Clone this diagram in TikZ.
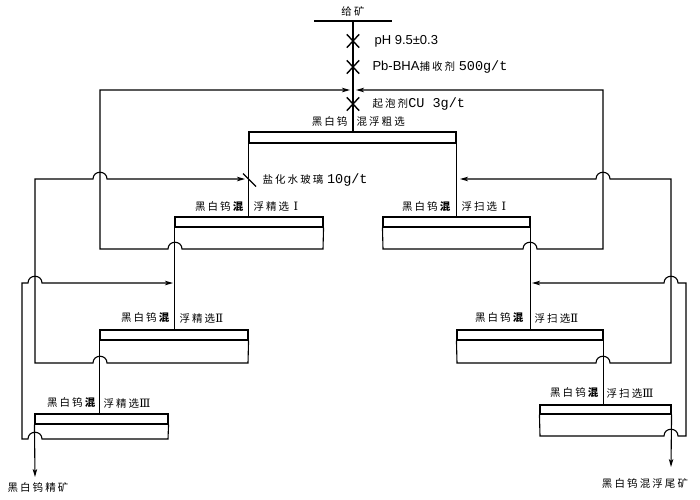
\documentclass[tikz,border=0pt]{standalone}
\usepackage{fontspec}
\setsansfont{Liberation Sans}
\setmonofont{Liberation Mono}
\newfontfamily\cjk[LetterSpace=20]{Noto Sans CJK SC}
\newfontfamily\romfont{DejaVu Serif}
\usetikzlibrary{arrows.meta,calc,shapes.misc}

% jumps over a crossing line, going right or left
\newcommand\hopR[1]{-- ($(#1)+(-7,0)$) .. controls ($(#1)+(-7,-9)$) and ($(#1)+(7,-9)$) .. ($(#1)+(7,0)$)}
\newcommand\hopL[1]{-- ($(#1)+(7,0)$) .. controls ($(#1)+(7,-9)$) and ($(#1)+(-7,-9)$) .. ($(#1)+(-7,0)$)}
% reagent text parts
\newcommand\zh[1]{{\cjk\fontsize{10.5}{12}\selectfont #1}}
\newcommand\amt[1]{{\ttfamily\fontsize{13.5}{15}\selectfont #1}}
\newcommand\rom[1]{{\romfont\fontsize{11.5}{12}\selectfont #1}}

\begin{document}
\begin{tikzpicture}[x=1pt,y=-1pt,line width=1.1pt,
    cell box/.style={draw,inner sep=0pt,minimum height=10pt},
    cell text/.style={inner sep=0pt,font=\cjk\fontsize{10.5}{12}\selectfont},
    dose text/.style={inner sep=0pt,anchor=west,font=\sffamily\fontsize{13}{15}\selectfont},
    cross mark/.style={cross out,draw,minimum width=11pt,minimum height=12pt,inner sep=0pt,line width=1.4pt},
    flow line/.style={-{Stealth[length=8pt,width=4.5pt,inset=2pt]}}]

      \useasboundingbox (0,0) rectangle (700,499);

      % Define cells
      \node[cell box,minimum width=207pt,minimum height=11pt] (R) at (352.5,137.5) {};
      \node[cell box,minimum width=148pt] (C1) at (249,222) {};
      \node[cell box,minimum width=148pt] (C2) at (174,335) {};
      \node[cell box,minimum width=133pt] (C3) at (101.5,419) {};
      \node[cell box,minimum width=147pt] (S1) at (456.5,222) {};
      \node[cell box,minimum width=146pt] (S2) at (530,335) {};
      \node[cell box,minimum width=131pt,minimum height=9pt] (S3) at (605.5,409.5) {};

      % Cell names
      \node[cell text,anchor=east] (Rl) at (348,122) {黑白钨};
      \node[cell text,anchor=west] (Rr) at (356,122) {混浮粗选};
      \node[cell text,anchor=east] (C1l) at (246,207) {黑白钨\textbf{混}};
      \node[cell text,anchor=west] (C1r) at (253,207) {浮精选 \rom{Ⅰ}};
      \node[cell text,anchor=east] (C2l) at (172,318) {黑白钨\textbf{混}};
      \node[cell text,anchor=west] (C2r) at (179,318) {浮精选\rom{Ⅱ}};
      \node[cell text,anchor=east] (C3l) at (98,403) {黑白钨\textbf{混}};
      \node[cell text,anchor=west] (C3r) at (103,403) {浮精选\rom{Ⅲ}};
      \node[cell text,anchor=east] (S1l) at (453,207) {黑白钨\textbf{混}};
      \node[cell text,anchor=west] (S1r) at (461,207) {浮扫选 \rom{Ⅰ}};
      \node[cell text,anchor=east] (S2l) at (526,318) {黑白钨\textbf{混}};
      \node[cell text,anchor=west] (S2r) at (534,318) {浮扫选\rom{Ⅱ}};
      \node[cell text,anchor=east] (S3l) at (601,393) {黑白钨\textbf{混}};
      \node[cell text,anchor=west] (S3r) at (606,393) {浮扫选\rom{Ⅲ}};
      \node[cell text] (conc) at (38,487) {黑白钨精矿};
      \node[cell text] (tail) at (645,483) {黑白钨混浮尾矿};

      % Feed and reagents
      \node[cell text] (feedtxt) at (353,11) {给矿};
      \coordinate (bar1) at (314,21);
      \coordinate (bar2) at (392,21);
      \coordinate (feed) at (353,21);
      \node[cross mark] (x1) at (353,41) {};
      \node[cross mark] (x2) at (353,67) {};
      \node[cross mark] (x3) at (353,104) {};
      \node[dose text] (d1) at (374,41) {pH 9.5±0.3};
      \node[dose text] (d2) at (372,67) {Pb-BHA\zh{捕收剂} \amt{500g/t}};
      \node[dose text] (d3) at (372,104) {\zh{起泡剂}\amt{CU 3g/t}};
      \node[dose text] (d4) at (262,180) {\zh{盐化水玻璃} \amt{10g/t}};
      \coordinate (tk) at (249,179.5);

      % Turning points
      \coordinate (fdL) at (350,90);
      \coordinate (fdR) at (356,90);
      \coordinate (c1r) at (323,249);  \coordinate (c1j) at (175,249);
      \coordinate (c1t) at (100,249);  \coordinate (c1u) at (100,90);
      \coordinate (c2r) at (248,363);  \coordinate (c2j) at (100,363);
      \coordinate (c2t) at (35,363);   \coordinate (c2u) at (35,179);
      \coordinate (c2k) at (100,179);  \coordinate (c2in) at (245,179);
      \coordinate (c3r) at (168,439);  \coordinate (c3j) at (35,439);
      \coordinate (c3t) at (22,439);   \coordinate (c3u) at (22,283);
      \coordinate (c3k) at (35,283);   \coordinate (c3in) at (173,283);
      \coordinate (c3out) at (35,477);
      \coordinate (s1l) at (383,249);  \coordinate (s1j) at (530,249);
      \coordinate (s1t) at (603,249);  \coordinate (s1u) at (603,90);
      \coordinate (s2l) at (457,363);  \coordinate (s2j) at (603,363);
      \coordinate (s2t) at (671,363);  \coordinate (s2u) at (671,179);
      \coordinate (s2k) at (603,179);  \coordinate (s2in) at (460,179);
      \coordinate (s3l) at (540,436);  \coordinate (s3j) at (671,436);
      \coordinate (s3t) at (686,436);  \coordinate (s3u) at (686,283);
      \coordinate (s3k) at (671,283);  \coordinate (s3in) at (532,283);
      \coordinate (s3out) at (671,467);

      % Draw flows
      \draw (bar1) -- (bar2);
      \draw (feed) -- (feed |- R.north);
      \draw (R.south west) -- (R.south west |- C1.north);
      \draw (R.south east) -- (R.south east |- S1.north);
      \draw ($(tk)+(-6,-6)$) -- ($(tk)+(7,7)$);

      \draw (C1.south west) -- (C1.south west |- C2.north);
      \draw[flow line] (C1.south east) -- (c1r) \hopL{c1j} -- (c1t) -- (c1u) -- (fdL);
      \draw (C2.south west) -- (C2.south west |- C3.north);
      \draw[flow line] (C2.south east) -- (c2r) \hopL{c2j} -- (c2t) -- (c2u) \hopR{c2k} -- (c2in);
      \draw[flow line] (C3.south west) -- (c3out);
      \draw[flow line] (C3.south east) -- (c3r) \hopL{c3j} -- (c3t) -- (c3u) \hopR{c3k} -- (c3in);

      \draw (S1.south east) -- (S1.south east |- S2.north);
      \draw[flow line] (S1.south west) -- (s1l) \hopR{s1j} -- (s1t) -- (s1u) -- (fdR);
      \draw (S2.south east) -- (S2.south east |- S3.north);
      \draw[flow line] (S2.south west) -- (s2l) \hopR{s2j} -- (s2t) -- (s2u) \hopL{s2k} -- (s2in);
      \draw[flow line] (S3.south east) -- (s3out);
      \draw[flow line] (S3.south west) -- (s3l) \hopR{s3j} -- (s3t) -- (s3u) \hopL{s3k} -- (s3in);

    \end{tikzpicture}
\end{document}
